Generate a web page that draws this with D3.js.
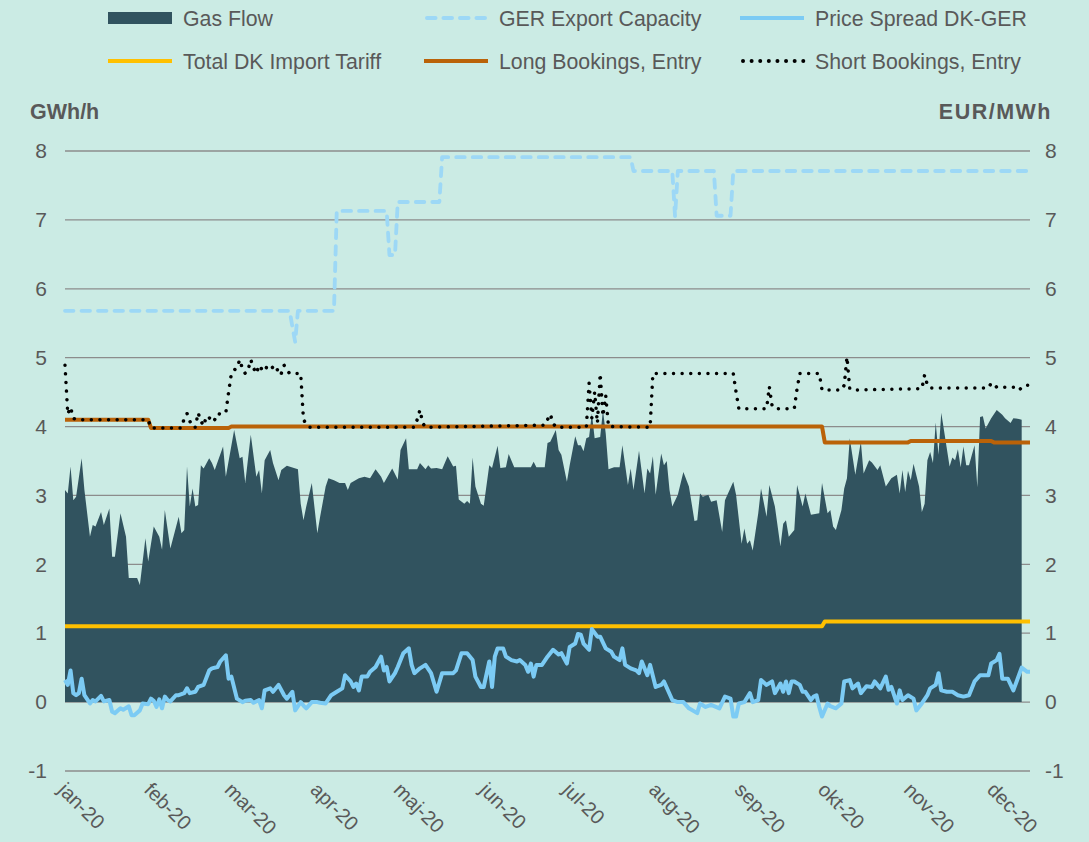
<!DOCTYPE html>
<html>
<head>
<meta charset="utf-8">
<script src="https://cdn.jsdelivr.net/npm/d3@7/dist/d3.min.js"></script>
<style>
  body { margin: 0; background: #cbebe4; }
  svg { display: block; font-family: "Liberation Sans", Arial, sans-serif; }
</style>
</head>
<body>
<svg id="chart" width="1089" height="842"></svg>
<script>
// every series: [day of 2020 (0 = 1 Jan), value]
const gasFlow = [
  [0,3.08],[1,3.03],[2,3.42],[3,2.93],[4,2.98],[6,3.54],[7,3.08],[9,2.40],[10,2.57],[11,2.55],
  [13,2.76],[14,2.57],[16,2.81],[17,2.11],[18,2.11],[20,2.74],[22,2.40],[23,1.80],[26,1.80],[27,1.70],
  [29,2.38],[30,2.04],[32,2.55],[34,2.40],[35,2.21],[36,2.79],[38,2.23],[41,2.69],[42,2.45],[43,2.50],
  [44,3.42],[45,2.84],[46,3.10],[47,2.84],[48,2.86],[49,3.44],[50,3.39],[52,3.54],[53,3.47],[54,3.37],
  [57,3.71],[58,3.27],[61,3.95],[63,3.54],[64,3.56],[65,3.18],[67,3.88],[69,3.27],[70,3.37],[71,3.03],
  [72,3.51],[74,3.66],[75,3.47],[77,3.22],[78,3.37],[80,3.43],[84,3.38],[85,2.88],[86,2.64],[87,2.84],
  [89,3.18],[91,2.45],[92,2.69],[94,3.13],[95,3.25],[97,3.22],[99,3.18],[101,3.18],[102,3.08],[103,3.18],
  [106,3.25],[108,3.27],[110,3.25],[112,3.38],[114,3.27],[115,3.18],[118,3.39],[120,3.23],[121,3.66],[123,3.83],
  [124,3.38],[127,3.38],[128,3.47],[130,3.38],[131,3.44],[132,3.39],[134,3.40],[136,3.38],[138,3.57],[140,3.42],
  [141,3.43],[142,2.94],[144,2.88],[145,2.92],[146,2.88],[147,3.55],[148,3.13],[150,2.88],[151,2.85],[153,3.44],
  [154,3.40],[156,3.72],[157,3.40],[159,3.41],[160,3.60],[162,3.41],[168,3.41],[169,3.49],[170,3.41],[173,3.41],
  [174,3.76],[175,3.78],[177,3.95],[178,3.66],[179,3.59],[181,3.20],[182,3.44],[184,3.86],[185,3.73],[186,3.73],
  [187,3.64],[188,3.83],[189,3.85],[190,4.19],[191,3.83],[193,3.85],[194,4.24],[195,3.90],[196,3.38],[198,3.41],
  [200,3.41],[201,3.73],[203,3.15],[204,3.39],[205,3.08],[207,3.65],[209,3.03],[210,3.39],[211,3.32],[212,3.57],
  [213,3.01],[215,3.61],[216,3.44],[217,3.50],[218,3.08],[219,2.84],[221,3.01],[223,3.34],[225,3.13],[227,2.63],
  [228,2.64],[229,3.03],[230,2.98],[232,3.01],[233,2.91],[235,2.93],[237,2.47],[238,2.93],[241,3.20],[242,3.01],
  [244,2.30],[245,2.52],[246,2.30],[247,2.35],[248,2.20],[250,2.74],[251,3.10],[253,2.69],[254,3.15],[256,2.84],
  [258,2.26],[259,2.59],[260,2.64],[261,2.40],[263,2.50],[264,3.15],[266,2.84],[267,3.03],[269,2.72],[272,2.74],
  [273,3.18],[275,2.74],[276,2.79],[277,2.55],[278,2.50],[280,2.79],[281,3.10],[282,3.25],[283,3.83],[285,3.30],
  [287,3.78],[288,3.32],[290,3.51],[291,3.48],[293,3.37],[294,3.44],[296,3.13],[298,3.25],[300,3.30],[301,3.03],
  [302,3.37],[303,3.05],[304,3.36],[305,3.22],[306,3.46],[308,3.13],[309,2.76],[310,2.88],[311,3.51],[312,3.63],
  [313,3.47],[314,4.06],[315,3.59],[316,4.20],[318,3.68],[319,3.42],[320,3.55],[321,3.51],[322,3.67],[323,3.41],
  [324,3.71],[325,3.44],[326,3.44],[328,3.73],[329,3.12],[330,4.14],[331,4.15],[332,3.97],[334,4.12],[336,4.24],
  [338,4.17],[339,4.12],[341,4.05],[342,4.12],[344,4.11],[345,4.10]
];

const priceSpread = [
  [0,0.32],[1,0.25],[2,0.46],[3,0.13],[4,0.10],[5,0.13],[6,0.34],[7,0.10],[9,-0.02],[10,0.03],
  [11,0.01],[13,0.09],[14,0.01],[16,0.03],[17,-0.14],[18,-0.16],[20,-0.09],[21,-0.11],[23,-0.06],[24,-0.19],
  [25,-0.19],[27,-0.12],[28,-0.02],[30,-0.03],[31,0.05],[32,0.02],[33,-0.07],[34,0.04],[35,-0.09],[36,0.08],
  [37,0.03],[38,0.01],[40,0.10],[41,0.10],[43,0.13],[44,0.20],[45,0.13],[47,0.15],[48,0.22],[50,0.25],
  [52,0.46],[53,0.49],[55,0.51],[56,0.59],[58,0.68],[59,0.34],[60,0.37],[62,0.05],[64,0.00],[65,0.02],
  [67,0.03],[68,-0.01],[70,0.03],[71,-0.09],[72,0.17],[74,0.20],[75,0.15],[77,0.25],[79,0.10],[80,0.05],
  [82,0.15],[83,-0.12],[85,0.00],[86,-0.05],[87,-0.09],[89,0.00],[91,0.00],[92,-0.01],[94,-0.02],[96,0.10],
  [98,0.15],[100,0.20],[101,0.39],[103,0.30],[104,0.22],[105,0.27],[106,0.17],[107,0.37],[109,0.37],[110,0.44],
  [112,0.51],[114,0.66],[115,0.46],[116,0.51],[117,0.30],[119,0.42],[120,0.51],[122,0.71],[124,0.78],[125,0.54],
  [126,0.42],[128,0.49],[130,0.54],[132,0.42],[134,0.15],[136,0.42],[138,0.42],[140,0.42],[141,0.46],[143,0.71],
  [145,0.71],[147,0.61],[148,0.37],[150,0.22],[151,0.22],[153,0.59],[154,0.22],[155,0.66],[156,0.78],[158,0.78],
  [159,0.66],[161,0.61],[163,0.59],[164,0.61],[166,0.54],[167,0.44],[168,0.56],[169,0.37],[170,0.54],[172,0.54],
  [174,0.66],[176,0.76],[178,0.69],[179,0.71],[181,0.56],[182,0.80],[184,0.85],[185,0.99],[186,0.98],[187,0.85],
  [189,0.76],[190,1.06],[192,0.95],[193,0.95],[195,0.78],[197,0.73],[198,0.66],[200,0.61],[201,0.78],[202,0.54],
  [204,0.49],[206,0.46],[207,0.42],[208,0.59],[210,0.39],[211,0.54],[213,0.22],[215,0.25],[216,0.30],[219,0.03],
  [221,0.00],[223,0.00],[225,-0.09],[228,-0.16],[229,-0.02],[231,-0.07],[233,-0.04],[236,-0.09],[238,0.08],[240,0.05],
  [241,-0.21],[242,-0.21],[243,-0.02],[245,0.00],[247,0.13],[248,0.00],[250,0.03],[251,0.32],[253,0.25],[255,0.30],
  [256,0.13],[258,0.27],[259,0.15],[260,0.30],[261,0.13],[262,0.30],[263,0.30],[265,0.25],[266,0.15],[267,0.15],
  [269,0.03],[270,0.08],[271,0.10],[272,-0.07],[273,-0.21],[275,-0.02],[276,-0.06],[278,-0.09],[280,-0.02],[281,0.30],
  [283,0.32],[284,0.20],[286,0.27],[287,0.13],[289,0.23],[291,0.22],[292,0.30],[294,0.20],[296,0.37],[297,0.18],
  [298,0.22],[300,-0.02],[301,0.17],[302,0.03],[304,0.10],[306,0.05],[307,-0.12],[309,-0.02],[311,0.10],[312,0.20],
  [314,0.25],[315,0.42],[316,0.17],[318,0.15],[320,0.15],[322,0.10],[324,0.08],[326,0.10],[328,0.30],[330,0.39],
  [333,0.39],[334,0.56],[336,0.61],[337,0.70],[338,0.34],[340,0.34],[342,0.17],[344,0.39],[345,0.50],[347,0.44],
  [348,0.44]
];

const gerCapacity = [
  [0,5.68],[81,5.68],[82,5.45],[83,5.23],[84,5.68],[97,5.68],[98,7.13],[116,7.13],[117,6.49],[119,6.49],
  [120,7.26],[135,7.26],[136,7.91],[204,7.91],[205,7.71],[219,7.71],[220,7.05],[221,7.71],[234,7.71],[235,7.06],
  [240,7.06],[241,7.71],[348,7.71]
];

const importTariff = [[0,1.10],[273,1.10],[274,1.17],[348,1.17]];

const longBookings = [
  [0,4.10],[30,4.10],[31,3.98],[59,3.98],[60,4.00],[273,4.00],[274,3.77],[304,3.77],[305,3.79],[334,3.79],
  [335,3.77],[348,3.77]
];

const shortBookings = [
  [0,4.89],[1,4.18],[2,4.28],[3,4.12],[4,4.10],[30,4.10],[31,3.98],[42,3.98],[43,4.12],[44,4.19],
  [45,4.08],[46,3.99],[47,3.99],[48,4.20],[49,4.08],[50,4.01],[51,4.15],[52,4.12],[53,4.16],[54,4.10],
  [55,4.19],[56,4.18],[58,4.20],[59,4.50],[60,4.77],[61,4.82],[62,4.85],[63,4.97],[64,4.84],[65,4.77],
  [66,4.82],[67,4.97],[68,4.85],[69,4.77],[70,4.89],[71,4.83],[72,4.80],[73,4.89],[74,4.89],[75,4.85],
  [76,4.79],[77,4.85],[78,4.77],[79,4.89],[80,4.82],[81,4.77],[85,4.77],[86,4.10],[87,4.04],[88,3.99],
  [126,3.99],[127,4.10],[128,4.24],[129,4.05],[130,3.99],[173,4.02],[174,4.10],[175,4.18],[176,4.05],[177,3.99],
  [188,3.99],[189,4.63],[190,4.12],[191,4.50],[192,4.05],[193,4.77],[194,4.15],[195,4.45],[196,4.00],[211,3.99],
  [212,4.77],[241,4.77],[242,4.50],[243,4.26],[253,4.26],[254,4.58],[255,4.30],[256,4.26],[263,4.26],[264,4.55],
  [265,4.77],[272,4.77],[273,4.53],[280,4.53],[281,4.60],[282,5.01],[283,4.55],[284,4.53],[309,4.55],[310,4.75],
  [311,4.60],[312,4.56],[333,4.56],[334,4.63],[335,4.62],[336,4.57],[343,4.57],[344,4.53],[346,4.60],[348,4.60]
];

const monthLabels = ["jan-20","feb-20","mar-20","apr-20","maj-20","jun-20","jul-20","aug-20","sep-20","okt-20","nov-20","dec-20"];
const yTicks = [-1, 0, 1, 2, 3, 4, 5, 6, 7, 8];

const colors = {
  flow: "#31535f",
  capacity: "#9dd8f6",
  spread: "#7ccbf4",
  tariff: "#ffc000",
  long: "#ba6208",
  short: "#000000",
  text: "#595959",
  grid: "#8c8c8c"
};

const svg = d3.select("#chart");
const start = new Date(Date.UTC(2020, 0, 1));
const dayDate = d => d3.utcDay.offset(start, d);

const x = d3.scaleUtc()
  .domain([start, new Date(Date.UTC(2020, 11, 14))])
  .range([65, 1030]);
const y = d3.scaleLinear().domain([-1, 8]).range([771, 151]);

// gridlines
svg.append("g")
  .selectAll("line")
  .data(yTicks)
  .join("line")
  .attr("x1", 65).attr("x2", 1030)
  .attr("y1", d => y(d)).attr("y2", d => y(d))
  .attr("stroke", colors.grid)
  .attr("stroke-width", 1.3);

// left and right axis labels (plain hyphen for negatives, like the original)
const leftAxis = svg.append("g")
  .attr("transform", "translate(47,0)")
  .call(d3.axisLeft(y).tickValues(yTicks).tickSize(0).tickPadding(0).tickFormat(d => String(d)));
const rightAxis = svg.append("g")
  .attr("transform", "translate(1045,0)")
  .call(d3.axisRight(y).tickValues(yTicks).tickSize(0).tickPadding(0).tickFormat(d => String(d)));
[leftAxis, rightAxis].forEach(g => {
  g.select(".domain").remove();
  g.selectAll("text")
    .attr("font-family", "Liberation Sans, Arial, sans-serif")
    .attr("font-size", 21)
    .attr("fill", colors.text);
});

svg.append("text")
  .attr("x", 30).attr("y", 119)
  .attr("font-size", 21.5).attr("font-weight", "bold")
  .attr("fill", colors.text)
  .text("GWh/h");
svg.append("text")
  .attr("x", 1052).attr("y", 119)
  .attr("text-anchor", "end")
  .attr("font-size", 21.5).attr("font-weight", "bold")
  .attr("letter-spacing", 1.5)
  .attr("fill", colors.text)
  .text("EUR/MWh");

// gas flow area
const area = d3.area()
  .x(d => x(dayDate(d[0])))
  .y0(y(0))
  .y1(d => y(d[1]));
svg.append("path")
  .datum(gasFlow)
  .attr("fill", colors.flow)
  .attr("d", area);

const line = d3.line()
  .x(d => x(dayDate(d[0])))
  .y(d => y(d[1]));

const series = [
  { data: importTariff, color: colors.tariff, width: 4 },
  { data: priceSpread, color: colors.spread, width: 4 },
  { data: gerCapacity, color: colors.capacity, width: 3.8, dash: "8.5,8", cap: "round" },
  { data: longBookings, color: colors.long, width: 4 },
  { data: shortBookings, color: colors.short, width: 3.5, dash: "0.01,8.6", cap: "round" }
];

series.forEach(s => {
  svg.append("path")
    .datum(s.data)
    .attr("fill", "none")
    .attr("stroke", s.color)
    .attr("stroke-width", s.width)
    .attr("stroke-linejoin", "round")
    .attr("stroke-linecap", s.cap || "butt")
    .attr("stroke-dasharray", s.dash || null)
    .attr("d", line);
});

// month labels
svg.append("g")
  .selectAll("text")
  .data(monthLabels)
  .join("text")
  .attr("transform", (d, i) => `translate(${x(new Date(Date.UTC(2020, i, 1))) - 8},791) rotate(45)`)
  .attr("font-size", 20)
  .attr("fill", colors.text)
  .text(d => d);

// legend
const legend = [
  { name: "Gas Flow", type: "rect", color: colors.flow, col: 0, row: 0 },
  { name: "GER Export Capacity", type: "line", color: colors.capacity, dash: "8.5,8", cap: "round", col: 1, row: 0 },
  { name: "Price Spread DK-GER", type: "line", color: colors.spread, col: 2, row: 0 },
  { name: "Total DK Import Tariff", type: "line", color: colors.tariff, col: 0, row: 1 },
  { name: "Long Bookings, Entry", type: "line", color: colors.long, col: 1, row: 1 },
  { name: "Short Bookings, Entry", type: "line", color: colors.short, dash: "0.01,8.6", cap: "round", col: 2, row: 1 }
];
const colX = [108, 424, 740];
const rowY = [18, 61];

const items = svg.append("g")
  .selectAll("g")
  .data(legend)
  .join("g")
  .attr("transform", d => `translate(${colX[d.col]},${rowY[d.row]})`);

items.filter(d => d.type === "rect")
  .append("rect")
  .attr("x", 0).attr("y", -6)
  .attr("width", 64).attr("height", 12)
  .attr("fill", d => d.color);

items.filter(d => d.type === "line")
  .append("line")
  .attr("x1", d => d.cap ? 3 : 0).attr("x2", 64)
  .attr("stroke", d => d.color)
  .attr("stroke-width", 4)
  .attr("stroke-linecap", d => d.cap || "butt")
  .attr("stroke-dasharray", d => d.dash || null);

items.append("text")
  .attr("x", 75).attr("y", 7.5)
  .attr("font-size", 21.3)
  .attr("fill", colors.text)
  .text(d => d.name);
</script>
</body>
</html>
